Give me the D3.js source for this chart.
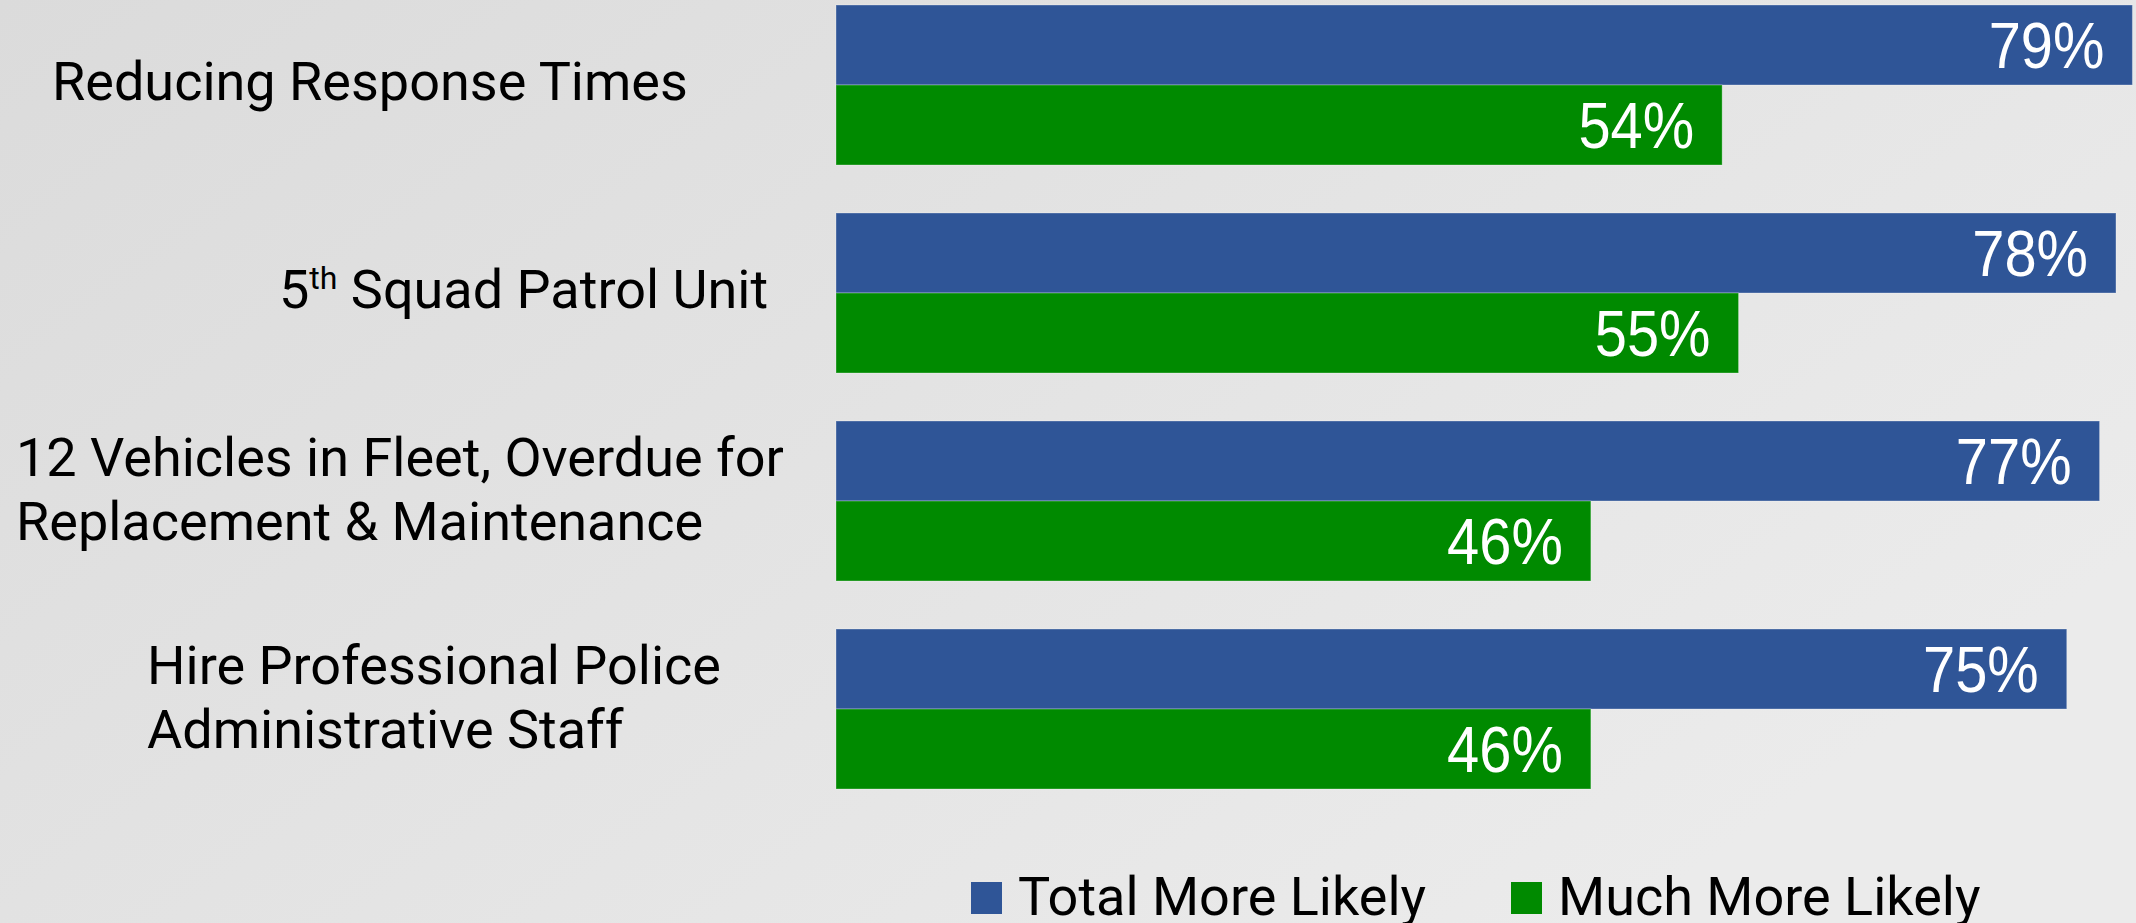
<!DOCTYPE html>
<html>
<head>
<meta charset="utf-8">
<script src="https://cdn.jsdelivr.net/npm/d3@7"></script>
<style>
  html, body { margin: 0; padding: 0; overflow: hidden; }
</style>
</head>
<body>
<div class="chart"></div>
<script>
// Data
var categories = ["Reducing Response Times", "5th Squad Patrol Unit",
  "12 Vehicles in Fleet, Overdue for Replacement & Maintenance",
  "Hire Professional Police Administrative Staff"];
// label lines as shown on the slide
var labelLines = [["Reducing Response Times"], ["5|th| Squad Patrol Unit"],
  ["12 Vehicles in Fleet, Overdue for", "Replacement & Maintenance"],
  ["Hire Professional Police", "Administrative Staff"]];
var seriesNames = ["Total More Likely", "Much More Likely"];
var totalMoreLikely = [79, 78, 77, 75];
var muchMoreLikely = [54, 55, 46, 46];

// Layout
var svgWidth = 2136;
var svgHeight = 923;
var colors = ["#2F5597", "#008A00"];
var labelLeft = [52, 279, 16, 147];   // text boxes were placed by hand

var svg = d3.select(".chart")
  .append("svg")
  .attr("width", svgWidth)
  .attr("height", svgHeight);

// background
var grad = svg.append("defs").append("linearGradient")
  .attr("id", "bg")
  .attr("x1", "0").attr("y1", "0")
  .attr("x2", "1").attr("y2", "0.6");
grad.append("stop").attr("offset", "0").attr("stop-color", "#dbdbdb");
grad.append("stop").attr("offset", "1").attr("stop-color", "#ebebeb");
svg.append("rect")
  .attr("width", svgWidth).attr("height", svgHeight)
  .attr("fill", "url(#bg)");

var rows = categories.map(function (c, i) {
  return { cat: c, values: [totalMoreLikely[i], muchMoreLikely[i]], lines: labelLines[i], left: labelLeft[i] };
});

var xScale = d3.scaleLinear()
  .domain([0, 100])
  .range([836, 2477]);

var yBand = d3.scaleBand()
  .domain(categories)
  .range([5, 789])
  .paddingInner(0.2308);

var ySub = d3.scaleBand()
  .domain([0, 1])
  .range([0, yBand.bandwidth()]);

var groups = svg.selectAll(".group")
  .data(rows)
  .enter()
  .append("g")
  .attr("class", "group")
  .attr("transform", d => `translate(0, ${yBand(d.cat)})`);

var bars = groups.selectAll("g.bar")
  .data(d => d.values.map((v, j) => ({ v: v, j: j })))
  .enter()
  .append("g")
  .attr("class", "bar");

bars.append("rect")
  .attr("x", xScale(0))
  .attr("y", d => ySub(d.j))
  .attr("width", d => xScale(d.v) - xScale(0))
  .attr("height", ySub.bandwidth())
  .attr("fill", d => colors[d.j])
  .attr("stroke", "#ffffff")
  .attr("stroke-opacity", 0.3)
  .attr("stroke-width", 1);

bars.append("text")
  .attr("transform", d => `translate(${xScale(d.v) - 28}, ${ySub(d.j) + ySub.bandwidth() / 2 + 23}) scale(0.89, 1)`)
  .attr("text-anchor", "end")
  .attr("fill", "#ffffff")
  .style("font-family", "'Liberation Sans', Arial, sans-serif")
  .style("font-size", "65px")
  .text(d => d.v + "%");

// category labels
groups.each(function (d) {
  var g = d3.select(this);
  var n = d.lines.length;
  var mid = yBand.bandwidth() / 2;
  var first = mid + 19 - (n - 1) * 32 - (n > 1 ? 12 : 4);
  d.lines.forEach(function (line, k) {
    var t = g.append("text")
      .attr("x", d.left)
      .attr("y", first + k * 64)
      .attr("fill", "#000")
      .style("font-family", "Roboto, sans-serif")
      .style("font-size", "54px");
    line.split("|").forEach(function (part, p) {
      var span = t.append("tspan").text(part);
      if (p === 1) {
        span.attr("baseline-shift", "super").style("font-size", "32px");
      }
    });
  });
});

// legend
var legend = svg.append("g").attr("transform", "translate(971, 882)");
var legendX = [0, 540];
seriesNames.forEach(function (name, i) {
  var item = legend.append("g").attr("transform", `translate(${legendX[i]}, 0)`);
  item.append("rect")
    .attr("width", 31).attr("height", 32)
    .attr("fill", colors[i]);
  item.append("text")
    .attr("x", 47).attr("y", 33)
    .attr("fill", "#000")
    .style("font-family", "Roboto, sans-serif")
    .style("font-size", "54px")
    .text(name);
});
</script>
</body>
</html>
